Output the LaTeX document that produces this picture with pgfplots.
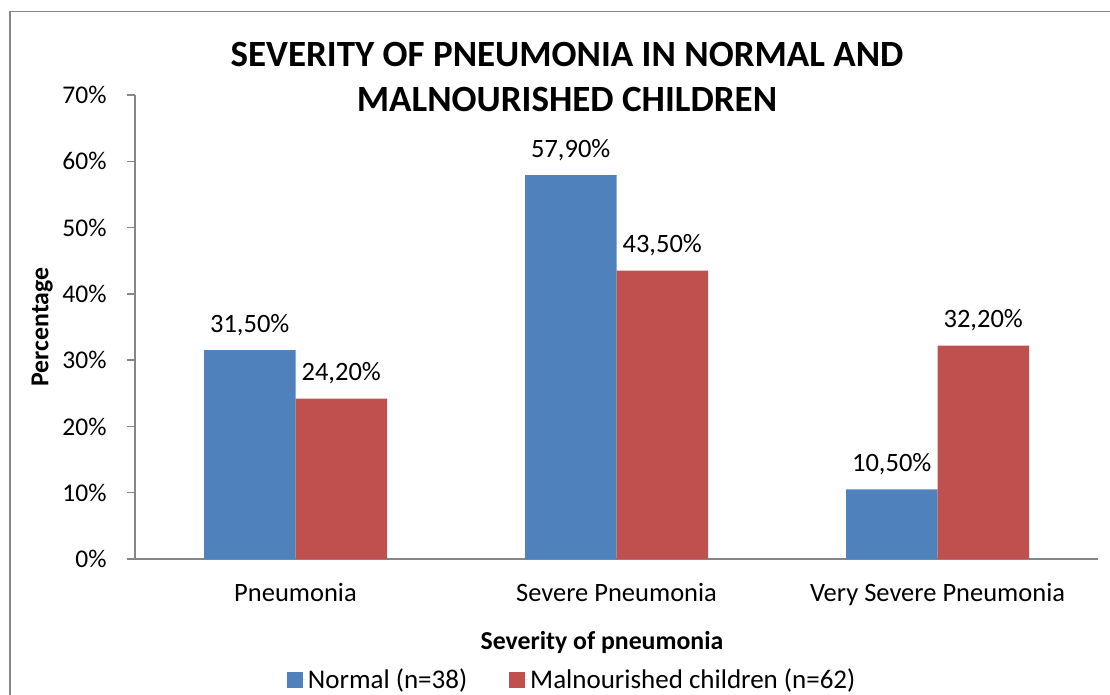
\documentclass[border=0pt]{standalone}
\usepackage{pgfplots}
\pgfplotsset{compat=1.18}
\usepackage{fontspec}
\setmainfont{Carlito}
\definecolor{cblue}{HTML}{4F81BD}
\definecolor{cred}{HTML}{C0504D}
\definecolor{axgray}{HTML}{868686}
\begin{document}
\begin{tikzpicture}[x=1bp,y=1bp,font=\fontsize{25.5bp}{30bp}\selectfont]
\begin{axis}[
  name=ax,
  at={(0,0)}, anchor=south west,
  scale only axis, width=963bp, height=464bp,
  xmin=-0.5, xmax=2.5, ymin=0, ymax=70,
  axis x line*=bottom, axis y line*=left,
  axis line style={axgray, line width=1.3bp},
  ytick={0,10,...,70},
  yticklabels={0\%,10\%,20\%,30\%,40\%,50\%,60\%,70\%},
  ytick style={axgray, line width=1.3bp},
  yticklabel style={xshift=-17bp},
  major tick length=8bp, tick align=outside,
  xtick={0,1,2},
  xticklabels={Pneumonia,Severe Pneumonia,Very Severe Pneumonia},
  xtick style={draw=none},
  xticklabel style={anchor=base, yshift=-35bp, font=\fontsize{26.5bp}{30bp}\selectfont},
  ybar, bar width=91.5bp,
  /pgf/number format/assume math mode=true,
  nodes near coords={\pgfmathprintnumber[fixed,fixed zerofill,precision=2,use comma]{\pgfplotspointmeta}\%},
  every node near coord/.append style={anchor=base, yshift=18bp, inner sep=0pt, text=black, font=\fontsize{26.5bp}{30bp}\selectfont},
  point meta=y,
  legend columns=2,
  legend style={at={(0.454,-0.2603)}, anchor=center, draw=none, fill=none,
    font=\fontsize{27bp}{30bp}\selectfont,
    /tikz/every even column/.append style={column sep=40bp}},
  legend image code/.code={\path (0bp,0bp) -- (19bp,0bp); \fill[#1] (0bp,-8bp) rectangle (16bp,8bp);},
]
\addplot[fill=cblue, draw=none, bar shift=-45.75bp] coordinates {(0,31.5) (1,57.9) (2,10.5)};
\addplot[fill=cred, draw=none, bar shift=45.75bp] coordinates {(0,24.2) (1,43.5) (2,32.2)};
\legend{Normal (n=38),Malnourished children (n=62)}
\end{axis}
\begin{scope}[shift={(ax.south west)}]
\draw[axgray, line width=1.5bp] (-125,-140) -- (-125,547.3) -- (980,547.3);
\node[font=\fontsize{37bp}{40bp}\selectfont\bfseries, anchor=base] at (432,492.3) {SEVERITY OF PNEUMONIA IN NORMAL AND};
\node[font=\fontsize{37bp}{40bp}\selectfont\bfseries, anchor=base] at (432,447.3) {MALNOURISHED CHILDREN};
\node[font=\fontsize{25.8bp}{30bp}\selectfont\bfseries, rotate=90, anchor=base] at (-86.7,232) {Percentage};
\node[font=\fontsize{25.8bp}{30bp}\selectfont\bfseries, anchor=base] at (467,-91) {Severity of pneumonia};
\pgfresetboundingbox
\useasboundingbox (-135,-136) rectangle (975,559);
\end{scope}
\end{tikzpicture}
\end{document}
